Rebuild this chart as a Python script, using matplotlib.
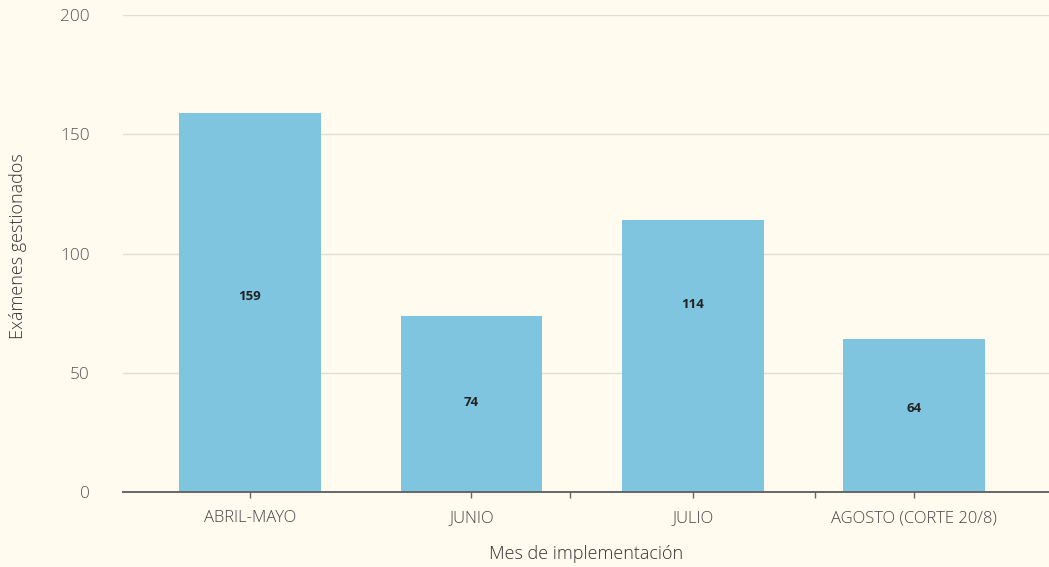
import matplotlib
matplotlib.use("Agg")
import matplotlib.pyplot as plt
import numpy as np

# datos del grafico
meses = ['ABRIL-MAYO', 'JUNIO', 'JULIO', 'AGOSTO (CORTE 20/8)']
examenes = [159, 74, 114, 64]
yticks = [0, 50, 100, 150, 200]

# altura de las etiquetas dentro de las barras (como en el original)
pos_etiqueta = [82, 37.5, 78.5, 35]

bg = '#fffbef'
barcol = '#80c5df'

plt.rcParams['font.family'] = ['Open Sans', 'DejaVu Sans']

fig = plt.figure(figsize=(10.49, 5.67), dpi=100, facecolor=bg)
ax = fig.add_axes([0.1173, 0.1323, 0.8827, 0.8412])
ax.set_facecolor(bg)

x = np.arange(len(meses))
bars = ax.bar(x, examenes, width=0.64, color=barcol, zorder=2)
for b, v, py in zip(bars, examenes, pos_etiqueta):
    ax.text(b.get_x() + b.get_width() / 2, py, str(v), ha='center', va='center',
            fontsize=9.5, fontweight='bold', color='#222222', zorder=3)

ax.set_xlim(-0.574, 3.61)
ax.set_ylim(0, 200)
ax.set_yticks(yticks)
ax.grid(axis='y', color='#e0ddd2', linewidth=1, zorder=0)
ax.set_xticks(x)
ax.set_xticklabels(meses)
ax.set_xticks([1.446, 2.553], minor=True)

for s in ['top', 'right', 'left']:
    ax.spines[s].set_visible(False)
ax.spines['bottom'].set_color('#666666')
ax.spines['bottom'].set_linewidth(1.4)
ax.spines['bottom'].set_zorder(4)

ax.tick_params(axis='y', length=0, pad=24, labelsize=12.3, labelcolor='#555555')
ax.tick_params(axis='x', which='both', length=4, width=1, color='#666666', pad=9,
               labelsize=12, labelcolor='#444444')
for t in ax.get_xticklabels() + ax.get_yticklabels():
    t.set_fontweight('light')

ax.set_xlabel('Mes de implementación', fontsize=13, color='#333333',
              labelpad=14, fontweight='light')
ax.set_ylabel('Exámenes gestionados', fontsize=13, color='#333333',
              fontweight='light')
ax.yaxis.set_label_coords(-0.104, 0.515)

plt.savefig('out.png', dpi=100, facecolor=bg)
